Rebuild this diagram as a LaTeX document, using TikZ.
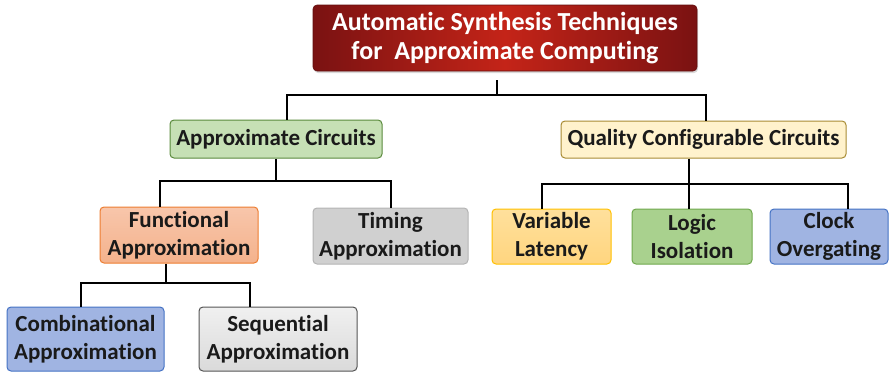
\documentclass[tikz,border=0pt]{standalone}
\usepackage{fontspec}
\setmainfont[Ligatures=NoCommon]{Carlito}
\usetikzlibrary{shadows}

% box colours
\definecolor{titleEdge}{HTML}{7A1212}
\definecolor{titleMid}{HTML}{C42418}
\definecolor{acFill}{HTML}{C6E0B5}
\definecolor{acLine}{HTML}{5A8A3C}
\definecolor{qcFill}{HTML}{FFF2CC}
\definecolor{qcLine}{HTML}{A88B33}
\definecolor{faTop}{HTML}{F8C6AB}
\definecolor{faBot}{HTML}{F4B28C}
\definecolor{faLine}{HTML}{ED7D31}
\definecolor{taFill}{HTML}{D0D0D0}
\definecolor{taLine}{HTML}{B4B4B4}
\definecolor{vlTop}{HTML}{FFE09C}
\definecolor{vlBot}{HTML}{FFD57F}
\definecolor{vlLine}{HTML}{FFC000}
\definecolor{liFill}{HTML}{A9D18E}
\definecolor{liLine}{HTML}{6FA84C}
\definecolor{blFill}{HTML}{A0B4E2}
\definecolor{blLine}{HTML}{4472C4}
\definecolor{sqTop}{HTML}{F0F0F0}
\definecolor{sqBot}{HTML}{DADADA}
\definecolor{sqLine}{HTML}{555555}
\definecolor{ink}{HTML}{1A1A1A}

\tikzset{
  box/.style={rounded corners=4pt, line width=1pt, align=center, inner sep=0pt,
    text=ink, font=\fontsize{23}{28}\selectfont\bfseries},
  wire/.style={line width=2pt, black},
}

\begin{document}
\begin{tikzpicture}[x=1pt,y=-1pt]
\useasboundingbox (0,0) rectangle (889,372);

% root
\node[box, minimum width=384pt, minimum height=66pt,
  left color=titleEdge, right color=titleEdge, middle color=titleMid,
  draw=titleEdge!80!black, line width=0.6pt, text=white,
  font=\fontsize{26}{28.5}\selectfont\bfseries,
  drop shadow={opacity=0.3, shadow xshift=1pt, shadow yshift=-2pt}]
  (root) at (505,38) {Automatic Synthesis Techniques\\for\ \ Approximate Computing};

% second level
\node[box, minimum width=212pt, minimum height=38pt, fill=acFill, draw=acLine]
  (ac) at (276,139) {Approximate Circuits};
\node[box, minimum width=285pt, minimum height=37pt, fill=qcFill, draw=qcLine]
  (qc) at (703.5,139.5) {Quality Configurable Circuits};

% third level
\node[box, minimum width=158pt, minimum height=56pt, top color=faTop, bottom color=faBot, draw=faLine]
  (fa) at (179,235) {Functional\\Approximation};
\node[box, minimum width=155pt, minimum height=56pt, fill=taFill, draw=taLine]
  (ta) at (390.5,236) {Timing\\Approximation};
\node[box, minimum width=119pt, minimum height=55pt, top color=vlTop, bottom color=vlBot, draw=vlLine]
  (vl) at (551.5,236.5) {Variable\\Latency};
\node[box, minimum width=120pt, minimum height=55pt, fill=liFill, draw=liLine]
  (li) at (692,236.5) {Logic\\Isolation};
\node[box, minimum width=118pt, minimum height=55pt, fill=blFill, draw=blLine]
  (co) at (829,236.5) {Clock\\Overgating};

% fourth level
\node[box, minimum width=157pt, minimum height=64pt, fill=blFill, draw=blLine]
  (ca) at (85.5,339) {Combinational\\Approximation};
\node[box, minimum width=158pt, minimum height=64pt, top color=sqTop, bottom color=sqBot, draw=sqLine]
  (sa) at (278,339) {Sequential\\Approximation};

% bus junctions
\coordinate (rs) at (497,80);
\coordinate (rb) at (497,95);
\coordinate (rl) at (287,95);
\coordinate (rr) at (706,95);
\coordinate (ab) at (276,181);
\coordinate (al) at (160,181);
\coordinate (ar) at (391,181);
\coordinate (qb) at (689,184);
\coordinate (ql) at (542,184);
\coordinate (qr) at (848,184);
\coordinate (fb) at (166,283);
\coordinate (fl) at (81,283);
\coordinate (fr) at (250,283);

% root to second level
\draw[wire] (rs) -- (rb);
\draw[wire] (rl |- ac.north) -- (rl) -- (rr) -- (rr |- qc.north);

% approximate circuits
\draw[wire] (ab |- ac.south) -- (ab);
\draw[wire] (al |- fa.north) -- (al) -- (ar) -- (ar |- ta.north);

% quality configurable circuits
\draw[wire] (qb |- qc.south) -- (qb |- li.north);
\draw[wire] (ql |- vl.north) -- (ql) -- (qr) -- (qr |- co.north);

% functional approximation
\draw[wire] (fb |- fa.south) -- (fb);
\draw[wire] (fl |- ca.north) -- (fl) -- (fr) -- (fr |- sa.north);
\end{tikzpicture}
\end{document}
